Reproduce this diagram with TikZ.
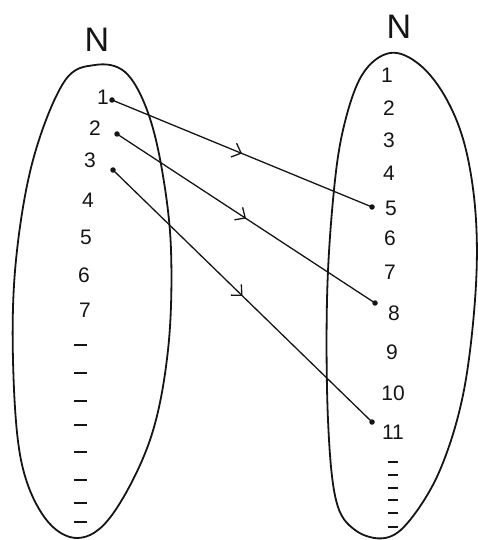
\documentclass[tikz,border=0pt]{standalone}
\usepackage{fontspec}
\setmainfont{Liberation Sans}
\usetikzlibrary{arrows.meta, decorations.markings}
\definecolor{Ink}{HTML}{151515}
\tikzset{
  setline/.style={draw=Ink, line width=1.8pt},
  setname/.style={font=\fontsize{34}{36}\selectfont, text=Ink, inner sep=0pt},
  numlabel/.style={font=\fontsize{21}{23}\selectfont, text=Ink, inner sep=0pt},
  elemdot/.style={circle, fill=Ink, inner sep=0pt, minimum size=5.5pt},
  elemdash/.style={draw=Ink, line width=1.6pt},
  mapline/.style={draw=Ink, line width=1.3pt, postaction={decorate},
    decoration={markings, mark=at position 0.5 with
      {\arrow{Straight Barb[length=8pt,width=15pt,line width=1.3pt]}}}}
}

\begin{document}
\begin{tikzpicture}[x=1pt, y=-1pt, >=Stealth]
\useasboundingbox (0,0) rectangle (477,540);

% the two sets
\draw[setline] plot[smooth cycle, tension=0.6] coordinates {
  (95,65) (125,72) (147,110) (162,170) (171,250) (168,350) (150,440)
  (112,515) (78,538) (45,518) (21,460) (13,360) (16,260) (33,160) (64,82)};
\draw[setline] plot[smooth cycle, tension=0.6] coordinates {
  (390,53) (420,65) (447,100) (466,150) (476,220) (475,300) (463,395)
  (440,470) (410,520) (385,538) (355,530) (336,500) (328,420) (327,300)
  (333,200) (343,130) (362,75)};

\node[setname] (nleft) at (97,40) {N};
\node[setname] (nright) at (399,27) {N};

% domain
\foreach \n/\x/\y in {1/103/97, 2/95/128, 3/90/160, 4/88/200, 5/86/237,
                      6/84/275, 7/85/310}
  \node[numlabel] (l\n) at (\x,\y) {\n};
\foreach \y in {345,373,401,425,452,480,503,522}
  \draw[elemdash] (74,\y) -- (87,\y);

% codomain
\foreach \n/\x/\y in {1/387/75, 2/389/108, 3/389/140, 4/389/173, 5/391/208,
                      6/390/238, 7/390/272, 8/394/313, 9/392/352,
                      10/393/393, 11/393/432}
  \node[numlabel] (r\n) at (\x,\y) {\n};
\foreach \y in {462,475,488,500,513,527}
  \draw[elemdash] (388,\y) -- (398,\y);

% mapping
\node[elemdot] (d1) at (112,100) {};
\node[elemdot] (d2) at (117,134) {};
\node[elemdot] (d3) at (113,170) {};
\node[elemdot] (e5) at (372,207) {};
\node[elemdot] (e8) at (375,303) {};
\node[elemdot] (e11) at (372,422) {};
\draw[mapline] (d1.center) -- (e5.center);
\draw[mapline] (d2.center) -- (e8.center);
\draw[mapline] (d3.center) -- (e11.center);
\end{tikzpicture}
\end{document}
